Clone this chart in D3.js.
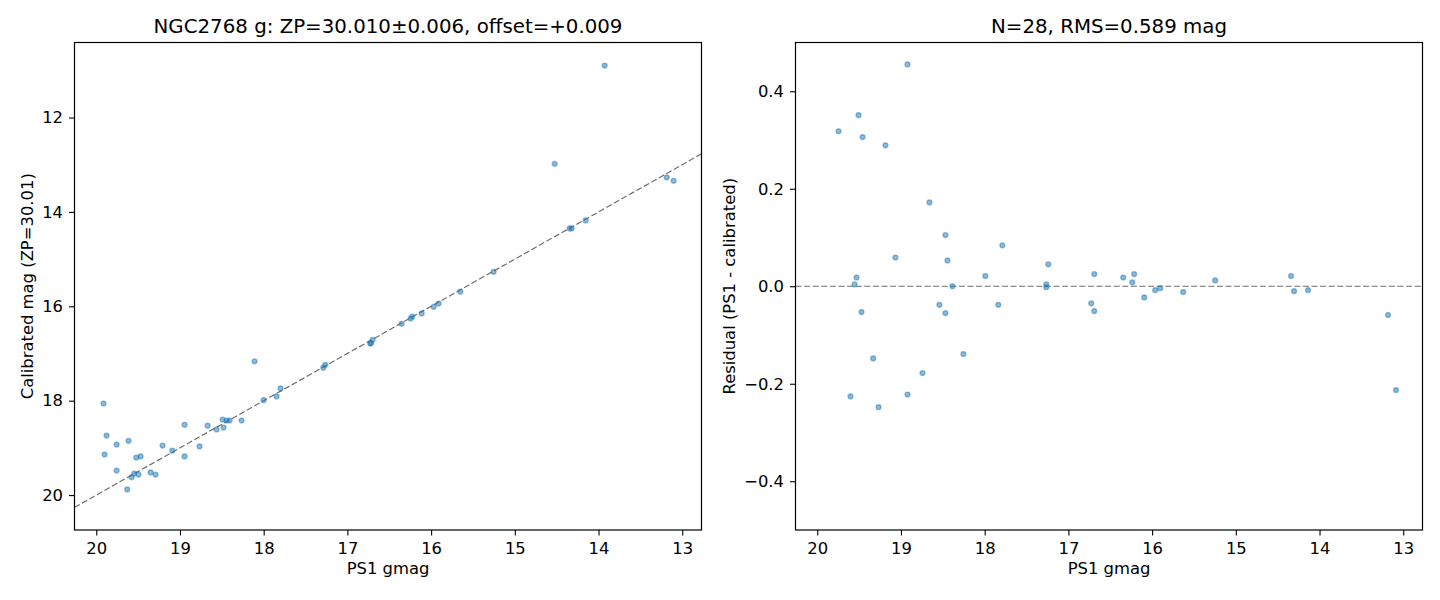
<!DOCTYPE html>
<html>
<head>
<meta charset="utf-8">
<script src="https://d3js.org/d3.v7.min.js"></script>
<style>
  body { margin: 0; background: #fff; }
  svg { font-family: "DejaVu Sans", sans-serif; }
  .tick text { font-size: 16.4px; fill: #000; }
  .tick line { stroke: #000; stroke-width: 1.1; }
  .frame { fill: none; stroke: #000; stroke-width: 1.2; }
  .dot { fill: #1f77b4; fill-opacity: 0.5; stroke: #1f77b4; stroke-opacity: 0.5; stroke-width: 1.4; }
  .ref { stroke: #6e6e6e; stroke-width: 1.2; stroke-dasharray: 6, 2.6; fill: none; }
  .title { font-size: 19.8px; text-anchor: middle; }
  .label { font-size: 16.4px; text-anchor: middle; }
</style>
</head>
<body>
<div id="chart"></div>
<script>
// left panel: PS1 gmag vs calibrated mag
var calPs1 = [19.913, 19.877, 19.757, 19.614, 19.901, 19.757, 19.522, 19.471, 19.630, 19.578,
              19.546, 19.495, 19.351, 19.292, 19.208, 19.092, 18.945, 18.945, 18.766, 18.670,
              18.563, 18.491, 18.479, 18.443, 18.407, 18.264, 18.109, 18.001, 17.846, 17.798,
              17.288, 17.264, 16.726, 16.699, 16.718, 16.352, 16.245, 16.225, 16.113, 15.970,
              15.910, 15.651, 15.253, 14.345, 14.321, 14.154, 14.524, 13.927, 13.186, 13.103];
var calMag = [18.06, 18.74, 18.93, 18.85, 19.14, 19.48, 19.205, 19.18, 19.88, 19.62,
              19.545, 19.565, 19.52, 19.565, 18.95, 19.06, 18.51, 19.18, 18.97, 18.53,
              18.61, 18.40, 18.57, 18.42, 18.42, 18.42, 17.165, 17.99, 17.91, 17.74,
              17.30, 17.24, 16.79, 16.71, 16.78, 16.37, 16.26, 16.22, 16.15, 16.01,
              15.94, 15.69, 15.27, 14.35, 14.35, 14.18, 12.98, 10.90, 13.27, 13.34];

// right panel: PS1 gmag vs residual
var resPs1 = [18.922, 19.507, 19.746, 19.459, 19.185, 18.660, 18.469, 17.789, 19.066, 18.445,
              17.240, 19.531, 17.992, 19.555, 18.385, 17.264, 17.264, 19.471, 18.541, 18.469,
              17.837, 19.332, 18.254, 18.743, 19.603, 18.922, 19.268, 16.691, 16.727, 16.691,
              16.345, 16.214, 16.237, 16.094, 15.963, 15.903, 15.629, 15.247, 14.340, 14.304,
              14.137, 13.182, 13.087];
var resVal = [0.455, 0.351, 0.318, 0.306, 0.289, 0.172, 0.105, 0.084, 0.059, 0.053,
              0.045, 0.018, 0.021, 0.004, 0.000, 0.004, -0.002, -0.053, -0.038, -0.055,
              -0.038, -0.148, -0.139, -0.178, -0.226, -0.222, -0.248, 0.025, -0.035, -0.051,
              0.018, 0.025, 0.008, -0.023, -0.008, -0.004, -0.012, 0.012, 0.021, -0.010,
              -0.008, -0.059, -0.213];

var xTicks = [20, 19, 18, 17, 16, 15, 14, 13];
var calTicks = [12, 14, 16, 18, 20];
var resTicks = [0.4, 0.2, 0.0, -0.2, -0.4];

var xDomain = [20.26, 12.77];
var calDomain = [10.41, 20.74];
var resDomain = [-0.5, 0.5];

var svg = d3.select("#chart").append("svg")
    .attr("width", 1440).attr("height", 600);

function panel(left, top) {
    return svg.append("g").attr("transform", "translate(" + left + "," + top + ")");
}

function addAxes(g, x, y, w, h, yTicks, yFmt) {
    g.append("g")
        .attr("transform", "translate(0," + h + ")")
        .call(d3.axisBottom(x).tickValues(xTicks).tickSize(5.5).tickPadding(7).tickFormat(d3.format("d")))
        .call(function (a) { a.select(".domain").remove(); });
    g.append("g")
        .call(d3.axisLeft(y).tickValues(yTicks).tickSize(5.5).tickPadding(6).tickFormat(yFmt))
        .call(function (a) { a.select(".domain").remove(); });
    g.selectAll(".tick text").attr("font-family", "DejaVu Sans").attr("font-size", null);
    g.append("rect").attr("class", "frame")
        .attr("x", 0).attr("y", 0).attr("width", w).attr("height", h);
}

// ---- left panel
var L = { left: 74.5, top: 42.5, width: 627, height: 487.5 };
var gL = panel(L.left, L.top);
var xL = d3.scaleLinear().domain(xDomain).range([0, L.width]);
var yL = d3.scaleLinear().domain(calDomain).range([0, L.height]);

// one-to-one reference line
gL.append("line")
    .attr("class", "ref")
    .attr("x1", xL(xDomain[0])).attr("y1", yL(xDomain[0]))
    .attr("x2", xL(xDomain[1])).attr("y2", yL(xDomain[1]));

gL.selectAll("circle")
    .data(calPs1)
    .enter()
    .append("circle")
    .attr("class", "dot")
    .attr("cx", function (d) { return xL(d); })
    .attr("cy", function (d, i) { return yL(calMag[i]); })
    .attr("r", 2.4);

addAxes(gL, xL, yL, L.width, L.height, calTicks, d3.format("d"));

svg.append("text").attr("class", "title")
    .attr("x", L.left + L.width / 2).attr("y", 32.5)
    .text("NGC2768 g: ZP=30.010\u00b10.006, offset=+0.009");
svg.append("text").attr("class", "label")
    .attr("x", L.left + L.width / 2).attr("y", 574)
    .text("PS1 gmag");
svg.append("text").attr("class", "label")
    .attr("transform", "translate(33," + (L.top + L.height / 2) + ") rotate(-90)")
    .text("Calibrated mag (ZP=30.01)");

// ---- right panel
var R = { left: 795.5, top: 42.5, width: 627, height: 487.5 };
var gR = panel(R.left, R.top);
var xR = d3.scaleLinear().domain(xDomain).range([0, R.width]);
var yR = d3.scaleLinear().domain(resDomain).range([R.height, 0]);

gR.append("line")
    .attr("class", "ref")
    .attr("x1", 0).attr("y1", yR(0))
    .attr("x2", R.width).attr("y2", yR(0));

gR.selectAll("circle")
    .data(resPs1)
    .enter()
    .append("circle")
    .attr("class", "dot")
    .attr("cx", function (d) { return xR(d); })
    .attr("cy", function (d, i) { return yR(resVal[i]); })
    .attr("r", 2.4);

addAxes(gR, xR, yR, R.width, R.height, resTicks, function (d) {
    return d3.format(".1f")(d).replace("-", "\u2212");
});

svg.append("text").attr("class", "title")
    .attr("x", R.left + R.width / 2).attr("y", 32.5)
    .text("N=28, RMS=0.589 mag");
svg.append("text").attr("class", "label")
    .attr("x", R.left + R.width / 2).attr("y", 574)
    .text("PS1 gmag");
svg.append("text").attr("class", "label")
    .attr("transform", "translate(735," + (R.top + R.height / 2) + ") rotate(-90)")
    .text("Residual (PS1 - calibrated)");
</script>
</body>
</html>
